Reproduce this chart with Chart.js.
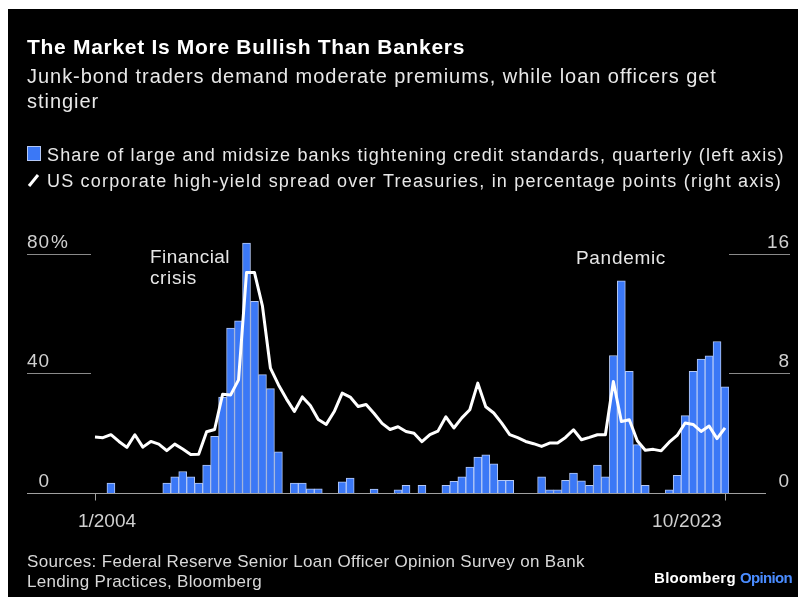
<!DOCTYPE html>
<html>
<head>
<meta charset="utf-8">
<script src="https://cdn.jsdelivr.net/npm/chart.js@4.4.0/dist/chart.umd.min.js"></script>
<style>
  body { margin: 0; background: #fff; overflow: hidden; }
  #chart { position: absolute; left: 0; top: 0; }
</style>
</head>
<body>
<canvas id="chart" width="798" height="597"></canvas>
<script>
// quarterly, 1/2004 .. 10/2023
const years = [2004, 2005, 2006, 2007, 2008, 2009, 2010, 2011, 2012, 2013,
  2014, 2015, 2016, 2017, 2018, 2019, 2020, 2021, 2022, 2023];
const quarters = [];
years.forEach(y => ['1', '4', '7', '10'].forEach(m => quarters.push(m + '/' + y)));

// share of large and midsize banks tightening C&I standards, %
const tightening = [
  0, 0, 3.3, 0, 0, 0, 0, 0, 0, 3.3,
  5.4, 7.2, 5.4, 3.3, 9.3, 19.0, 32.1, 55.2, 57.6, 83.6,
  64.1, 39.6, 34.9, 13.8, 0, 3.3, 3.3, 1.4, 1.4, 0,
  0, 3.7, 5.0, 0, 0, 1.3, 0, 0, 1.1, 2.6,
  0, 2.6, 0, 0, 2.6, 3.9, 5.4, 8.7, 12.0, 12.8,
  9.8, 4.2, 4.2, 0, 0, 0, 5.4, 1.1, 1.1, 4.2,
  6.7, 4.1, 2.6, 9.3, 5.4, 46.0, 71.0, 40.7, 16.2, 2.6,
  0, 0, 1.1, 5.9, 25.9, 40.7, 44.8, 45.9, 50.7, 35.5
];

// US high-yield spread over Treasuries, percentage points
const spread = [
  3.74, 3.70, 3.90, 3.45, 3.05, 3.90, 3.07, 3.45, 3.27, 2.83,
  3.27, 2.94, 2.58, 2.60, 4.10, 4.25, 6.60, 6.55, 7.57, 14.75,
  14.75, 12.5, 8.35, 7.25, 6.30, 5.46, 6.43, 5.85, 4.92, 4.59,
  5.45, 6.68, 6.42, 5.79, 5.92, 5.32, 4.66, 4.25, 4.43, 4.12,
  4.00, 3.43, 3.90, 4.14, 5.10, 4.35, 5.03, 5.57, 7.35, 5.77,
  5.35, 4.68, 3.90, 3.70, 3.45, 3.30, 3.12, 3.34, 3.34, 3.72,
  4.23, 3.56, 3.72, 3.90, 3.90, 7.46, 4.79, 4.90, 3.50, 2.86,
  2.92, 2.82, 3.40, 3.85, 4.68, 4.59, 4.12, 4.48, 3.64, 4.36
];

const leftTicks = [0, 40, 80];
const leftLabels = ['0', '40', '80'];
const rightTicks = [0, 8, 16];
const rightLabels = ['0', '8', '16'];
const xTickIndex = [0, 79];
const xTickLabels = ['1/2004', '10/2023'];

const BLUE = '#3b78f6';
const FONT = '"Liberation Sans", Arial, sans-serif';

function seg(ctx, x1, y1, x2, y2) {
  ctx.beginPath();
  ctx.moveTo(x1, y1);
  ctx.lineTo(x2, y2);
  ctx.stroke();
}

// draw text stretched (by letter spacing) to roughly the width it has in the original
function fitText(ctx, text, x, y, width, align) {
  ctx.letterSpacing = '0px';
  const w = ctx.measureText(text).width;
  const sp = width ? (width - w) / text.length : 0;
  ctx.letterSpacing = sp.toFixed(2) + 'px';
  const total = w + sp * text.length;
  let left = x;
  if (align === 'right') left = x - total;
  if (align === 'center') left = x - total / 2;
  ctx.textAlign = 'left';
  ctx.fillText(text, left, y);
  ctx.letterSpacing = '0px';
  return total;
}

const decor = {
  id: 'decor',
  beforeDraw(chart) {
    const ctx = chart.ctx;
    const yL = chart.scales.y, yR = chart.scales.y1;
    ctx.save();
    ctx.fillStyle = '#fff';
    ctx.fillRect(0, 0, 798, 597);
    ctx.fillStyle = '#000';
    ctx.fillRect(8, 9, 790, 588);

    // short gridline stubs at the margins
    ctx.strokeStyle = '#8a8a8a';
    ctx.lineWidth = 1;
    leftTicks.forEach(v => {
      if (v === 0) return;
      const py = Math.round(yL.getPixelForValue(v)) + 0.5;
      seg(ctx, 27, py, 91, py);
    });
    rightTicks.forEach(v => {
      if (v === 0) return;
      const py = Math.round(yR.getPixelForValue(v)) + 0.5;
      seg(ctx, 729, py, 790, py);
    });
    ctx.restore();
  },
  afterDatasetsDraw(chart) {
    const ctx = chart.ctx;
    const yL = chart.scales.y, yR = chart.scales.y1, x = chart.scales.x;
    ctx.save();
    ctx.textBaseline = 'alphabetic';

    // baseline + x ticks
    const by = Math.round(yL.getPixelForValue(0)) + 0.5;
    ctx.strokeStyle = '#a0a0a0';
    ctx.lineWidth = 1;
    seg(ctx, 27, by, 766, by);
    xTickIndex.forEach(i => {
      const px = Math.round(x.getPixelForValue(i)) + 0.5;
      seg(ctx, px, by, px, by + 7);
    });

    // axis labels
    ctx.fillStyle = '#d0d0d0';
    ctx.font = '19px ' + FONT;
    leftTicks.forEach((v, k) => {
      const py = yL.getPixelForValue(v) - 6;
      fitText(ctx, leftLabels[k], 50, py, leftLabels[k].length * 11.5, 'right');
      if (k === leftTicks.length - 1) fitText(ctx, '%', 51, py, 20);
    });
    rightTicks.forEach((v, k) => {
      fitText(ctx, rightLabels[k], 790, yR.getPixelForValue(v) - 6, rightLabels[k].length * 11.5, 'right');
    });
    fitText(ctx, xTickLabels[0], 78, 527, 58);
    fitText(ctx, xTickLabels[1], 722, 527, 70, 'right');

    // annotations
    ctx.fillStyle = '#e6e6e6';
    fitText(ctx, 'Financial', 150, 263, 80);
    fitText(ctx, 'crisis', 150, 284, 47);
    fitText(ctx, 'Pandemic', 576, 264, 90);

    // title block
    ctx.fillStyle = '#fff';
    ctx.font = 'bold 21px ' + FONT;
    fitText(ctx, 'The Market Is More Bullish Than Bankers', 27, 54, 438);
    ctx.fillStyle = '#e8e8e8';
    ctx.font = '20px ' + FONT;
    const subW = 690;
    const sub1 = 'Junk-bond traders demand moderate premiums, while loan officers get';
    fitText(ctx, sub1, 27, 83, subW);
    ctx.letterSpacing = '0px';
    const sp = (subW - ctx.measureText(sub1).width) / sub1.length;
    const st = 'stingier';
    fitText(ctx, st, 27, 108, ctx.measureText(st).width + sp * st.length);

    // legend
    ctx.fillStyle = BLUE;
    ctx.fillRect(27, 146, 14, 15);
    ctx.strokeStyle = '#b4c8f5';
    ctx.lineWidth = 1;
    ctx.strokeRect(27.5, 146.5, 13, 14);
    ctx.strokeStyle = '#fff';
    ctx.lineWidth = 3;
    seg(ctx, 29, 186, 38, 175);
    ctx.fillStyle = '#e8e8e8';
    ctx.font = '18px ' + FONT;
    fitText(ctx, 'Share of large and midsize banks tightening credit standards, quarterly (left axis)', 47, 161, 738);
    fitText(ctx, 'US corporate high-yield spread over Treasuries, in percentage points (right axis)', 47, 187, 735);

    // footer
    ctx.font = '17px ' + FONT;
    ctx.fillStyle = '#d8d8d8';
    fitText(ctx, 'Sources: Federal Reserve Senior Loan Officer Opinion Survey on Bank', 27, 567, 558);
    fitText(ctx, 'Lending Practices, Bloomberg', 27, 587, 235);
    ctx.font = 'bold 15px ' + FONT;
    ctx.fillStyle = '#4a8cff';
    const wO = fitText(ctx, 'Opinion', 792, 583, 52, 'right');
    ctx.fillStyle = '#fff';
    fitText(ctx, 'Bloomberg', 792 - wO - 4, 583, 82, 'right');
    ctx.restore();
  }
};

new Chart(document.getElementById('chart').getContext('2d'), {
  type: 'bar',
  data: {
    labels: quarters,
    datasets: [
      {
        type: 'line',
        data: spread,
        yAxisID: 'y1',
        borderColor: '#fff',
        borderWidth: 3,
        pointRadius: 0,
        tension: 0,
        borderJoinStyle: 'round',
        order: 0,
      },
      {
        type: 'bar',
        data: tightening,
        yAxisID: 'y',
        backgroundColor: BLUE,
        borderColor: '#b4c8f5',
        borderWidth: 1,
        barPercentage: 1,
        categoryPercentage: 1,
        order: 1,
      },
    ],
  },
  options: {
    responsive: false,
    animation: false,
    layout: { padding: { left: 91, right: 69, top: 224, bottom: 104 } },
    plugins: { legend: { display: false }, tooltip: { enabled: false } },
    scales: {
      x: { display: false, offset: true },
      y: { display: false, min: 0, max: 90 },
      y1: { display: false, position: 'right', min: 0, max: 18 },
    },
  },
  plugins: [decor],
});
</script>
</body>
</html>
